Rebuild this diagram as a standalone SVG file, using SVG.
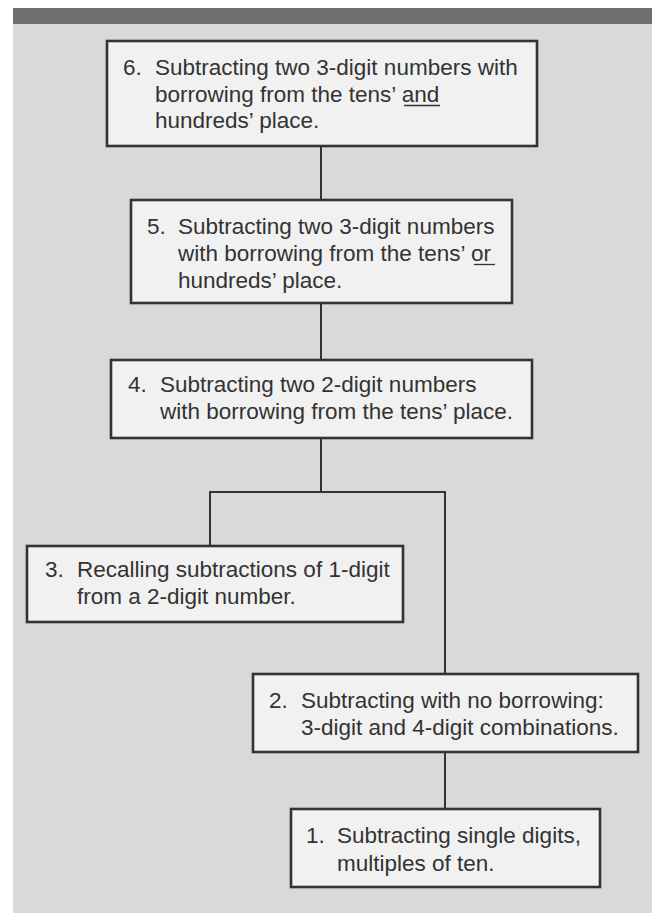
<svg xmlns="http://www.w3.org/2000/svg" width="652" height="913" viewBox="0 0 652 913">
  <style>
    .box { fill: #f1f1f1; stroke: #333333; stroke-width: 2.6; }
    .wire { fill: none; stroke: #333333; stroke-width: 2; }
    text { font-family: "Liberation Sans", Arial, Helvetica, sans-serif; font-size: 22.5px; fill: #333333; }
    .ul { stroke: #333333; stroke-width: 1.3; }
  </style>
  <!-- page panel and header band -->
  <rect x="0" y="0" width="652" height="913" fill="#ffffff"/>
  <rect x="13" y="24" width="639" height="889" fill="#d9d9d9"/>
  <rect x="13" y="8" width="639" height="16" fill="#6f6f6f"/>

  <!-- connectors -->
  <g id="connectors">
    <line class="wire" x1="321" y1="146" x2="321" y2="200"/>
    <line class="wire" x1="321" y1="303" x2="321" y2="360"/>
    <polyline class="wire" points="321,438 321,492"/>
    <polyline class="wire" points="210,546 210,492 445,492 445,674"/>
    <line class="wire" x1="445" y1="752" x2="445" y2="809"/>
  </g>

  <g id="step6">
    <rect class="box" x="107" y="41" width="430" height="105"/>
    <text x="123" y="75">6.</text>
    <text x="155" y="75">Subtracting two 3-digit numbers with</text>
    <text x="155" y="102">borrowing from the tens’ and</text>
    <line class="ul" x1="404" y1="105.5" x2="440" y2="105.5"/>
    <text x="155" y="128">hundreds’ place.</text>
  </g>

  <g id="step5">
    <rect class="box" x="131" y="200" width="381" height="103"/>
    <text x="147" y="234">5.</text>
    <text x="178" y="234">Subtracting two 3-digit numbers</text>
    <text x="178" y="261">with borrowing from the tens’ or</text>
    <line class="ul" x1="474" y1="264.5" x2="495" y2="264.5"/>
    <text x="178" y="288">hundreds’ place.</text>
  </g>

  <g id="step4">
    <rect class="box" x="111" y="360" width="421" height="78"/>
    <text x="128" y="392">4.</text>
    <text x="160" y="392">Subtracting two 2-digit numbers</text>
    <text x="160" y="419">with borrowing from the tens’ place.</text>
  </g>

  <g id="step3">
    <rect class="box" x="27" y="546" width="376" height="76"/>
    <text x="45" y="577">3.</text>
    <text x="77" y="577">Recalling subtractions of 1-digit</text>
    <text x="77" y="604">from a 2-digit number.</text>
  </g>

  <g id="step2">
    <rect class="box" x="253" y="674" width="385" height="78"/>
    <text x="269" y="708">2.</text>
    <text x="301" y="708">Subtracting with no borrowing:</text>
    <text x="301" y="735">3-digit and 4-digit combinations.</text>
  </g>

  <g id="step1">
    <rect class="box" x="291" y="809" width="309" height="78"/>
    <text x="306" y="843">1.</text>
    <text x="337" y="843">Subtracting single digits,</text>
    <text x="337" y="871">multiples of ten.</text>
  </g>
</svg>
